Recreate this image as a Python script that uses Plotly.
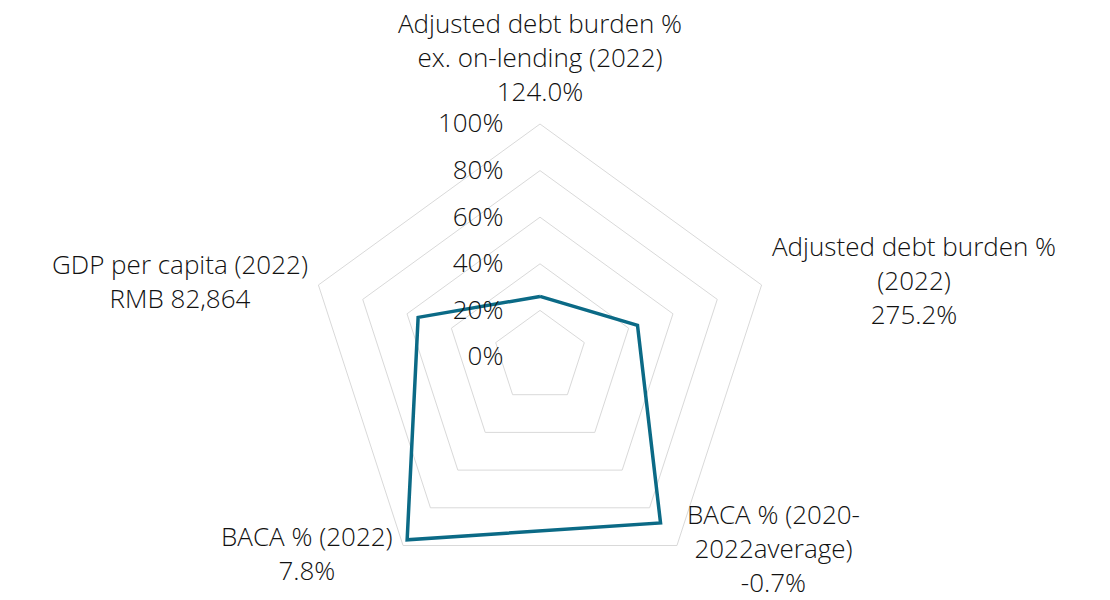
import math
import plotly.graph_objects as go

# Spoke names, reported values and normalised scores (0-100)
metrics = [
    "Adjusted debt burden %<br>ex. on-lending (2022)",
    "Adjusted debt burden %<br>(2022)",
    "BACA % (2020-<br>2022average)",
    "BACA % (2022)",
    "GDP per capita (2022)",
]
reported = ["124.0%", "275.2%", "-0.7%", "7.8%", "RMB 82,864"]
scores = [26, 44, 88, 97, 55]
radial_ticks = [0, 20, 40, 60, 80, 100]

FONT = "Open Sans"
TEXT = "#111111"
GRID = "#d9d9d9"
W, H = 1110, 600
CX, CY, R = 540, 357, 233  # polar centre and outer radius, in pixels

fig = go.Figure()
fig.add_trace(go.Scatterpolar(
    r=scores + scores[:1],
    theta=metrics + metrics[:1],
    mode="lines",
    line=dict(color="#0b6a86", width=3.5),
    hoverinfo="skip",
))

# Spoke labels placed just outside each outer vertex, centre-aligned text
n = len(metrics)
for i, (name, val) in enumerate(zip(metrics, reported)):
    ang = math.radians(90 - 360 * i / n)
    vx = CX + R * math.cos(ang)
    vy = CY - R * math.sin(ang)
    c = math.cos(ang)
    if abs(c) < 0.2:
        xanchor, yanchor, xs, ys = "center", "bottom", 0, 13
    elif c > 0:
        xanchor, yanchor, xs, ys = "left", "middle", 8, 5 if vy < CY else -2
    else:
        xanchor, yanchor, xs, ys = "right", "middle", -8, 4 if vy < CY else -7
    fig.add_annotation(
        x=vx / W, y=1 - vy / H, xref="paper", yref="paper",
        text=f"{name}<br>{val}", showarrow=False, align="center",
        xanchor=xanchor, yanchor=yanchor, xshift=xs, yshift=ys,
        font=dict(family=FONT, size=26, color=TEXT, weight=300),
    )

fig.update_layout(
    width=W,
    height=H,
    margin=dict(l=0, r=0, t=0, b=0),
    paper_bgcolor="white",
    showlegend=False,
    font=dict(family=FONT, size=25, color=TEXT, weight=300),
    polar=dict(
        domain=dict(x=[(CX - R) / W, (CX + R) / W],
                    y=[1 - (CY + R) / H, 1 - (CY - R) / H]),
        bgcolor="white",
        gridshape="linear",
        angularaxis=dict(
            rotation=90,
            direction="clockwise",
            showgrid=False,
            showline=True,
            linecolor=GRID,
            linewidth=1,
            showticklabels=False,
            ticks="",
        ),
        radialaxis=dict(
            range=[0, 100],
            tickmode="array",
            tickvals=radial_ticks,
            ticktext=[f"{v}%" for v in radial_ticks],
            angle=90,
            side="counterclockwise",
            tickangle=90,
            showline=False,
            ticks="outside",
            ticklen=27,
            tickcolor="rgba(0,0,0,0)",
            gridcolor=GRID,
            gridwidth=1,
            tickfont=dict(family=FONT, size=26, color=TEXT, weight=300),
        ),
    ),
)

fig.write_html("out.html")
